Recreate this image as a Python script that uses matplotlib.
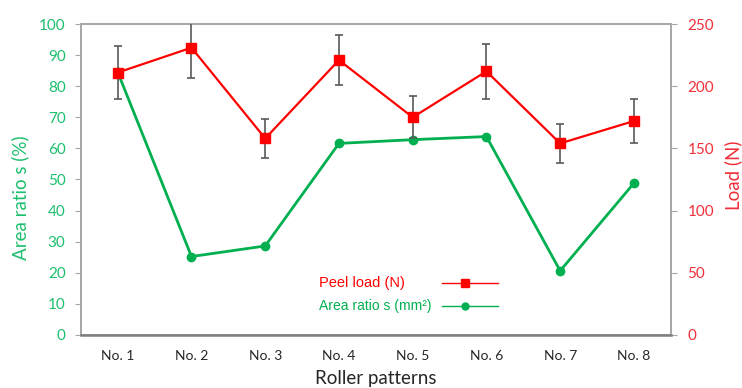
import numpy as np
import matplotlib.pyplot as plt

plt.rcParams['font.family'] = ['Lato', 'DejaVu Sans']

# 数据
patterns = ['No. 1', 'No. 2', 'No. 3', 'No. 4', 'No. 5', 'No. 6', 'No. 7', 'No. 8']
area_ratio = [84.5, 25.2, 28.6, 61.6, 62.8, 63.8, 20.6, 48.8]
peel_load = [211, 231, 158, 221, 175, 212, 154, 172]
peel_err = [21, 24, 16, 20, 17, 22, 16, 18]

GREEN = '#00b050'
GREEN_TXT = '#1dbf6e'
RED = '#ff0000'
RED_TXT = '#f0303a'
GRAY = '#a6a6a6'

fig = plt.figure(figsize=(7.42, 3.88), dpi=100)
ax = fig.add_axes([0.109, 0.137, 0.795, 0.801])
ax2 = ax.twinx()

x = np.arange(len(patterns))

ax.plot(x, area_ratio, color=GREEN, lw=2, marker='o', ms=6, zorder=3)
ax2.errorbar(x, peel_load, yerr=peel_err, color=RED, lw=1.6, marker='s', ms=7,
             ecolor='#595959', elinewidth=1.2, capsize=3, capthick=1.2, zorder=3)

ax.set_xlim(-0.5, 7.5)
ax.set_ylim(0, 100)
ax2.set_ylim(0, 250)
ax.set_yticks(np.arange(0, 101, 10))
ax2.set_yticks(np.arange(0, 251, 50))
ax.set_xticks(x)
ax.set_xticklabels(patterns, fontsize=10, color='#262626')

for s in ['left', 'right', 'top', 'bottom']:
    ax2.spines[s].set_color(GRAY)
    ax.spines[s].set_color(GRAY)
    ax.spines[s].set_linewidth(1.2)
    ax2.spines[s].set_linewidth(1.2)
ax2.spines['bottom'].set_color('#7f7f7f')
ax2.spines['bottom'].set_linewidth(1.8)

ax.tick_params(axis='x', length=0, pad=11)
ax.tick_params(axis='y', colors=GRAY, labelcolor=GREEN_TXT, labelsize=11, length=4, pad=7)
ax2.tick_params(axis='y', colors=GRAY, labelcolor=RED_TXT, labelsize=11, length=4, pad=8)

ax.set_ylabel('Area ratio s (%)', color=GREEN_TXT, fontsize=13.5)
ax.yaxis.set_label_coords(-0.088, 0.44)
ax2.set_ylabel('Load (N)', color=RED_TXT, fontsize=13.5, rotation=90)
ax2.yaxis.set_label_coords(1.09, 0.514)
ax.set_xlabel('Roller patterns', color='#262626', fontsize=13.5, labelpad=6)

# 图例(手动绘制, 文字左对齐, 线在右侧)
leg_items = [('Peel load (N)', RED, 's', 6, 0.167, 10.5),
             ('Area ratio s (mm²)', GREEN, 'o', 5, 0.093, 10)]
for label, c, m, ms, yy, fs in leg_items:
    ax.text(0.403, yy, label, color=c, fontsize=fs, family='Liberation Sans',
            transform=ax.transAxes, ha='left', va='center')
    ax.plot([0.612, 0.707], [yy, yy], color=c, lw=1, transform=ax.transAxes,
            clip_on=False, zorder=4)
    ax.plot([0.651], [yy], color=c, marker=m, ms=ms, transform=ax.transAxes,
            clip_on=False, zorder=4)

fig.savefig('out.png', dpi=100, facecolor='white')
